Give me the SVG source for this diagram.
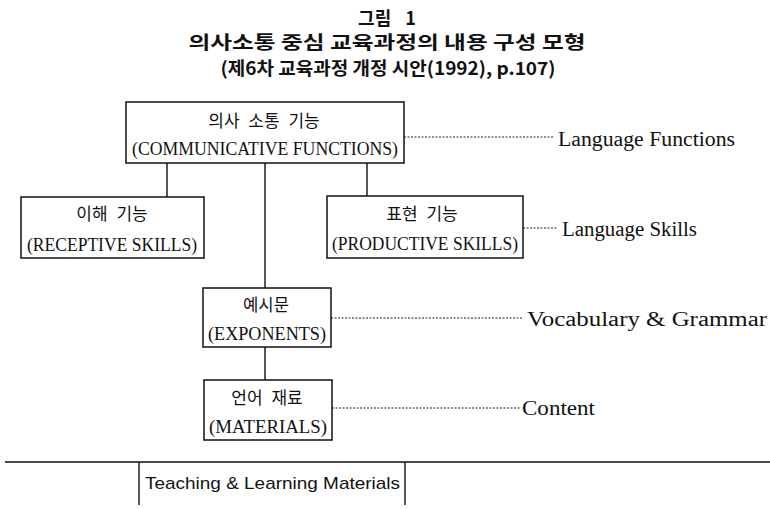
<svg xmlns="http://www.w3.org/2000/svg" width="770" height="509" viewBox="0 0 770 509">
<style>
.box{fill:#fff;stroke:#111;stroke-width:1.5}
.ln{stroke:#111;stroke-width:1.4;fill:none}
.dot{stroke:#222;stroke-width:1;stroke-dasharray:2 1.5;fill:none}
.ko{font-family:"Noto Sans CJK KR","Noto Sans",sans-serif;font-size:17px;word-spacing:5px;fill:#111;text-anchor:middle}
.en{font-family:"Liberation Serif","DejaVu Serif",serif;font-size:19px;fill:#111;text-anchor:middle}
.lab{font-family:"Liberation Serif","DejaVu Serif",serif;font-size:20px;fill:#111}
.ttl{font-family:"Noto Sans CJK KR","Noto Sans",sans-serif;font-weight:bold;font-size:18px;fill:#111;text-anchor:middle}
.sans{font-family:"Liberation Sans",Arial,sans-serif;font-size:17px;fill:#111}
</style>
<g id="title">
<text class="ttl" x="387" y="25" style="word-spacing:10px">그림 1</text>
<text class="ttl" x="387" y="49" textLength="397" lengthAdjust="spacingAndGlyphs">의사소통 중심 교육과정의 내용 구성 모형</text>
<text class="ttl" x="388" y="75" textLength="335" lengthAdjust="spacingAndGlyphs">(제6차 교육과정 개정 시안(1992), p.107)</text>
</g>
<g id="connectors">
<path class="ln" d="M167 163V197M265 163V288M367 163V196M265 347V380"/>
<path class="dot" d="M404 137H553M523 228H558M331 318H523M332 408H520"/>
<path class="ln" d="M5 462H770M139 462V505M405 462V505"/>
</g>
<g id="n-functions">
<rect class="box" x="126" y="102" width="278" height="61"/>
<text class="ko" x="264" y="127">의사 소통 기능</text>
<text class="en" x="265" y="155" textLength="266" lengthAdjust="spacingAndGlyphs">(COMMUNICATIVE FUNCTIONS)</text>
</g>
<g id="n-receptive">
<rect class="box" x="21" y="197" width="183" height="61"/>
<text class="ko" x="112" y="220">이해 기능</text>
<text class="en" x="112" y="251" textLength="170" lengthAdjust="spacingAndGlyphs">(RECEPTIVE SKILLS)</text>
</g>
<g id="n-productive">
<rect class="box" x="327" y="196" width="196" height="62"/>
<text class="ko" x="422" y="220">표현 기능</text>
<text class="en" x="425" y="250" textLength="186" lengthAdjust="spacingAndGlyphs">(PRODUCTIVE SKILLS)</text>
</g>
<g id="n-exponents">
<rect class="box" x="203" y="288" width="128" height="59"/>
<text class="ko" x="266" y="311" textLength="46" lengthAdjust="spacingAndGlyphs">예시문</text>
<text class="en" x="267" y="340" textLength="118" lengthAdjust="spacingAndGlyphs">(EXPONENTS)</text>
</g>
<g id="n-materials">
<rect class="box" x="204" y="380" width="128" height="60"/>
<text class="ko" x="267" y="404">언어 재료</text>
<text class="en" x="268" y="433" textLength="118" lengthAdjust="spacingAndGlyphs">(MATERIALS)</text>
</g>
<g id="labels">
<text class="lab" x="558" y="146" textLength="177" lengthAdjust="spacingAndGlyphs">Language Functions</text>
<text class="lab" x="562" y="236" textLength="135" lengthAdjust="spacingAndGlyphs">Language Skills</text>
<text class="lab" x="527" y="326" textLength="240" lengthAdjust="spacingAndGlyphs">Vocabulary &amp; Grammar</text>
<text class="lab" x="522" y="415" textLength="73" lengthAdjust="spacingAndGlyphs">Content</text>
</g>
<g id="n-teaching">
<text class="sans" x="145" y="489" textLength="255" lengthAdjust="spacingAndGlyphs">Teaching &amp; Learning Materials</text>
</g>
</svg>
